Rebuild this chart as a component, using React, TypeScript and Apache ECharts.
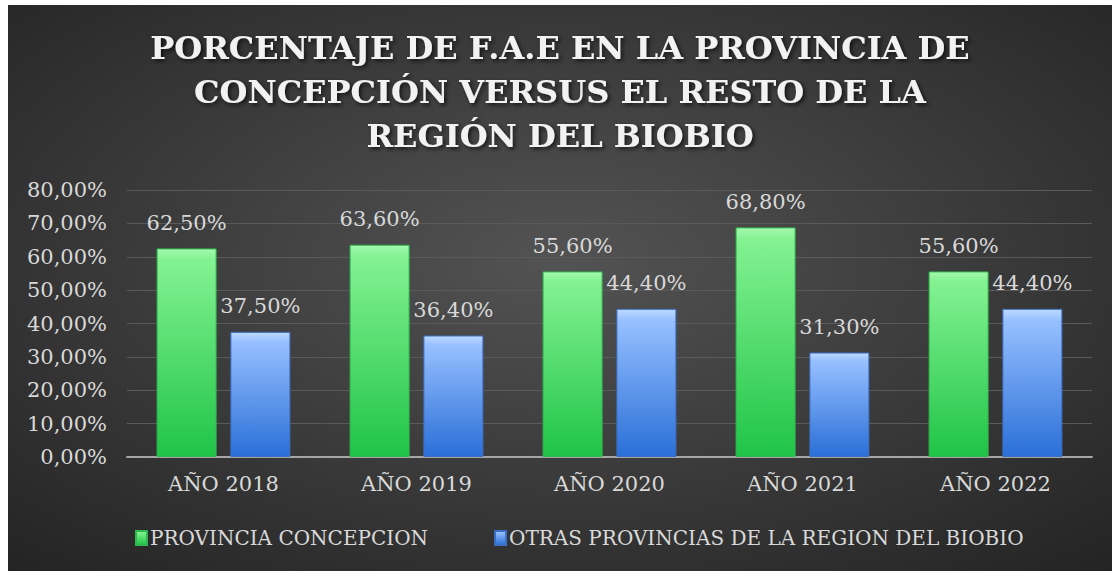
import React, { useEffect, useRef } from "react";
import * as echarts from "echarts";

const categories = ["AÑO 2018", "AÑO 2019", "AÑO 2020", "AÑO 2021", "AÑO 2022"];
const provinciaConcepcion = [62.5, 63.6, 55.6, 68.8, 55.6];
const otrasProvincias = [37.5, 36.4, 44.4, 31.3, 44.4];
const seriesNames = ["PROVINCIA CONCEPCION", "OTRAS PROVINCIAS DE LA REGION DEL BIOBIO"];
const titleText = "PORCENTAJE DE F.A.E EN LA PROVINCIA DE\nCONCEPCIÓN VERSUS EL RESTO DE LA\nREGIÓN DEL BIOBIO";

const fmt = (v: number, d = 2) => v.toFixed(d).replace(".", ",") + "%";
const FONT = "DejaVu Serif";
const TXT = "#d9d9d9";

export default function App() {
  const ref = useRef<HTMLDivElement>(null);
  useEffect(() => {
    if (!ref.current) return;
    const chart = echarts.init(ref.current, undefined, { renderer: "svg" });
    const greenGrad = new echarts.graphic.LinearGradient(0, 0, 0, 1, [
      { offset: 0, color: "#a4f8af" },
      { offset: 0.05, color: "#84f292" },
      { offset: 1, color: "#1fc447" },
    ]);
    const blueGrad = new echarts.graphic.LinearGradient(0, 0, 0, 1, [
      { offset: 0, color: "#bcd9ff" },
      { offset: 0.08, color: "#96bfff" },
      { offset: 1, color: "#2a6fd8" },
    ]);
    const labelCfg = {
      show: true,
      position: "top",
      distance: 15,
      fontFamily: FONT,
      fontSize: 21,
      color: TXT,
      formatter: (p: any) => fmt(p.value),
    };
    chart.setOption({
      animation: false,
      backgroundColor: new echarts.graphic.RadialGradient(0.5, 0.45, 0.75, [
        { offset: 0, color: "#535353" },
        { offset: 1, color: "#232323" },
      ]),
      title: {
        text: titleText,
        left: "center",
        top: 16,
        textStyle: {
          fontFamily: FONT,
          fontWeight: "bold",
          fontSize: 32,
          lineHeight: 44,
          color: "#f2f2f2",
          textShadowColor: "rgba(0,0,0,0.7)",
          textShadowBlur: 4,
          textShadowOffsetX: 2,
          textShadowOffsetY: 2,
        },
      },
      legend: {
        bottom: 18,
        left: 122,
        itemWidth: 11,
        itemHeight: 14,
        itemGap: 66,
        icon: "rect",
        textStyle: { fontFamily: FONT, fontSize: 20, color: TXT, padding: [0, 0, 0, -2] },
        data: seriesNames,
      },
      grid: { left: 119, right: 20, top: 185, bottom: 114, containLabel: false },
      xAxis: {
        type: "category",
        data: categories,
        axisLine: { lineStyle: { color: "#a6a6a6", width: 2 } },
        axisTick: { show: false },
        axisLabel: { fontFamily: FONT, fontSize: 21, color: TXT, margin: 16 },
      },
      yAxis: {
        type: "value",
        min: 0,
        max: 80,
        interval: 10,
        axisLine: { show: false },
        axisTick: { show: false },
        splitLine: { lineStyle: { color: "#5a5a5a", width: 1 } },
        axisLabel: {
          fontFamily: FONT,
          fontSize: 21,
          color: TXT,
          margin: 20,
          formatter: (v: number) => fmt(v),
        },
      },
      series: [
        {
          name: seriesNames[0],
          type: "bar",
          data: provinciaConcepcion,
          barWidth: 60,
          barGap: "23%",
          itemStyle: { color: greenGrad, borderColor: "#2fb84e", borderWidth: 1 },
          label: labelCfg,
        },
        {
          name: seriesNames[1],
          type: "bar",
          data: otrasProvincias,
          barWidth: 60,
          barGap: "23%",
          itemStyle: { color: blueGrad, borderColor: "#3a6fc4", borderWidth: 1 },
          label: labelCfg,
        },
      ],
      color: ["#3ad65e", "#4a86e0"],
    });
    return () => chart.dispose();
  }, []);
  return (
    <div
      ref={ref}
      style={{ position: "absolute", left: 8, top: 5, width: 1104, height: 566 }}
    />
  );
}
